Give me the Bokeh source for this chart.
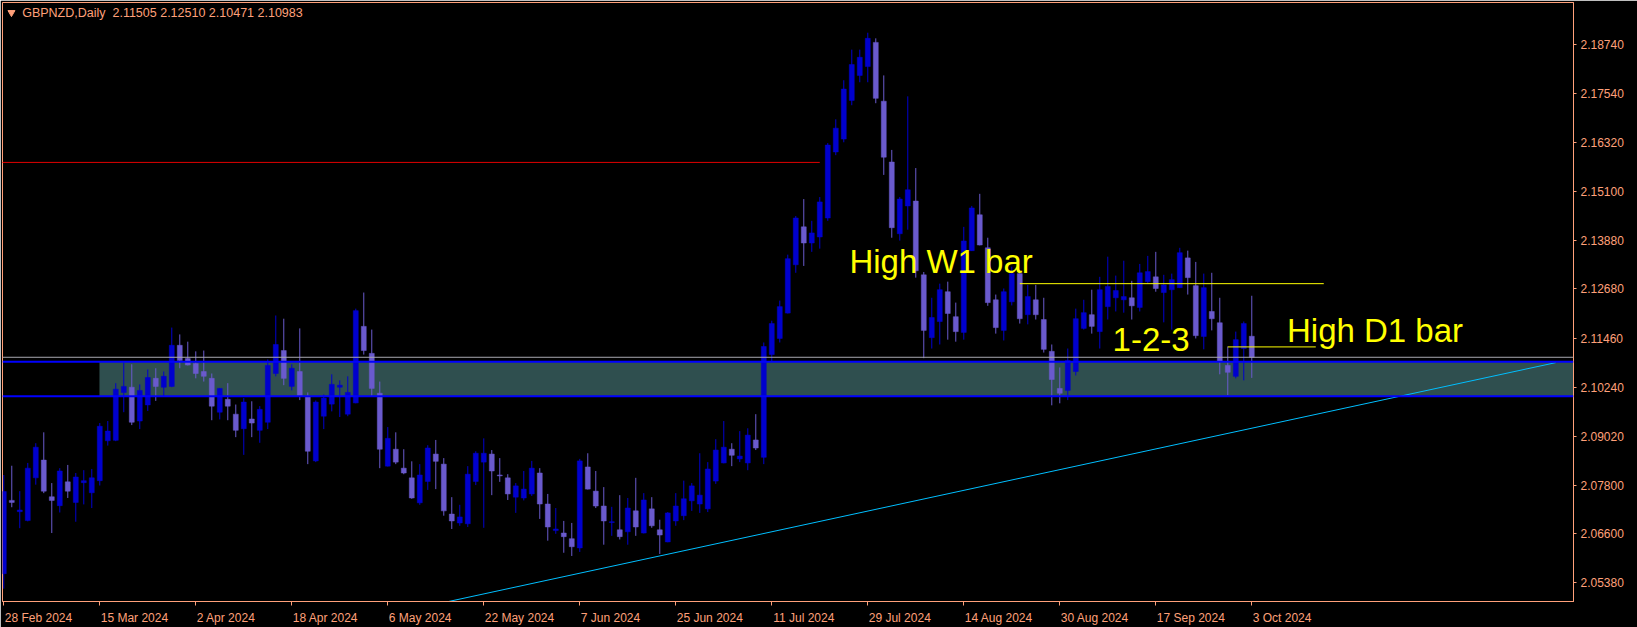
from bokeh.plotting import figure
from bokeh.models import (Range1d, FixedTicker, PrintfTickFormatter, Label,
                          ColumnDataSource, BoxAnnotation, Span, CustomJSTickFormatter)
from bokeh.embed import file_html
from bokeh.resources import INLINE
from bokeh.core.properties import value

# ---------------- data (GBPNZD daily, 28 Feb 2024 .. 3 Oct 2024) ----------------
opens = [2.0561, 2.0743, 2.0715, 2.0693, 2.0799, 2.0843, 2.0752, 2.0730, 2.0789, 2.0738,
         2.0787, 2.0762, 2.0792, 2.0891, 2.0892, 2.1011, 2.1024, 2.0940, 2.0980, 2.1046,
         2.1024, 2.1026, 2.1128, 2.1095, 2.1083, 2.1063, 2.1046, 2.0962, 2.0994, 2.0957,
         2.0921, 2.0945, 2.0917, 2.0937, 2.1058, 2.1115, 2.1026, 2.1063, 2.1002, 2.0841,
         2.0952, 2.0982, 2.1024, 2.0957, 2.0985, 2.1175, 2.1108, 2.1009, 2.0828, 2.0870,
         2.0823, 2.0799, 2.0737, 2.0790, 2.0858, 2.0833, 2.0709, 2.0687, 2.0685, 2.0790,
         2.0838, 2.0858, 2.0806, 2.0799, 2.0751, 2.0749, 2.0759, 2.0811, 2.0734, 2.0668,
         2.0662, 2.0648, 2.0625, 2.0826, 2.0766, 2.0729, 2.0688, 2.0670, 2.0665, 2.0717,
         2.0662, 2.0722, 2.0670, 2.0640, 2.0692, 2.0705, 2.0742, 2.0734, 2.0722, 2.0791,
         2.0836, 2.0870, 2.0846, 2.0836, 2.0893, 2.0850, 2.1105, 2.1145, 2.1208, 2.1328,
         2.1422, 2.1382, 2.1397, 2.1444, 2.1608, 2.1640, 2.1736, 2.1798, 2.1820, 2.1880,
         2.1734, 2.1583, 2.1405, 2.1474, 2.1486, 2.1303, 2.1147, 2.1187, 2.1261, 2.1199,
         2.1160, 2.1363, 2.1452, 2.1370, 2.1241, 2.1165, 2.1236, 2.1306, 2.1204, 2.1241,
         2.1192, 2.1113, 2.1021, 2.1016, 2.1063, 2.1170, 2.1204, 2.1162, 2.1224, 2.1246,
         2.1241, 2.1246, 2.1222, 2.1286, 2.1298, 2.1259, 2.1266, 2.1271, 2.1345, 2.1276,
         2.1150, 2.1212, 2.1184, 2.1078, 2.1051, 2.1120, 2.11505]
highs = [2.0806, 2.0829, 2.0766, 2.0836, 2.0885, 2.0912, 2.0786, 2.0823, 2.0831, 2.0811,
         2.0818, 2.0821, 2.0935, 2.0940, 2.1034, 2.1085, 2.1081, 2.1031, 2.1068, 2.1071,
         2.1063, 2.1172, 2.1155, 2.1137, 2.1113, 2.1115, 2.1058, 2.1022, 2.1034, 2.0981,
         2.0997, 2.0989, 2.0977, 2.1093, 2.1202, 2.1194, 2.1081, 2.1170, 2.1011, 2.0991,
         2.1006, 2.1056, 2.1041, 2.1051, 2.1219, 2.1259, 2.1167, 2.1038, 2.0925, 2.0912,
         2.0870, 2.0840, 2.0833, 2.0880, 2.0893, 2.0848, 2.0751, 2.0732, 2.0828, 2.0865,
         2.0897, 2.0868, 2.0848, 2.0808, 2.0786, 2.0816, 2.0841, 2.0823, 2.0759, 2.0724,
         2.0692, 2.0687, 2.0846, 2.0860, 2.0816, 2.0776, 2.0727, 2.0756, 2.0749, 2.0799,
         2.0761, 2.0751, 2.0695, 2.0714, 2.0761, 2.0792, 2.0786, 2.0860, 2.0838, 2.0895,
         2.0940, 2.0885, 2.0915, 2.0922, 2.0957, 2.1135, 2.1189, 2.1239, 2.1353, 2.1449,
         2.1491, 2.1437, 2.1496, 2.1630, 2.1689, 2.1786, 2.1862, 2.1862, 2.1904, 2.1890,
         2.1798, 2.1613, 2.1496, 2.1746, 2.1568, 2.1310, 2.1246, 2.1281, 2.1286, 2.1234,
         2.1422, 2.1474, 2.1504, 2.1395, 2.1254, 2.1269, 2.1323, 2.1307, 2.1278, 2.1278,
         2.1246, 2.1130, 2.1073, 2.1120, 2.1219, 2.1241, 2.1266, 2.1298, 2.1348, 2.1301,
         2.1338, 2.1288, 2.1330, 2.1350, 2.1360, 2.1303, 2.1306, 2.1370, 2.1363, 2.1335,
         2.1306, 2.1308, 2.1246, 2.1125, 2.1162, 2.1187, 2.12510]
lows = [2.0524, 2.0726, 2.0674, 2.0691, 2.0782, 2.0761, 2.0662, 2.0713, 2.0749, 2.0690,
        2.0733, 2.0724, 2.0780, 2.0879, 2.0890, 2.0962, 2.0930, 2.0920, 2.0965, 2.0990,
        2.1002, 2.1024, 2.1071, 2.1078, 2.1046, 2.1038, 2.0942, 2.0944, 2.0942, 2.0900,
        2.0856, 2.0900, 2.0886, 2.0920, 2.1051, 2.1029, 2.1016, 2.0992, 2.0833, 2.0838,
        2.0920, 2.0964, 2.0950, 2.0952, 2.0984, 2.1105, 2.1002, 2.0823, 2.0827, 2.0833,
        2.0808, 2.0747, 2.0732, 2.0769, 2.0771, 2.0705, 2.0672, 2.0680, 2.0677, 2.0781,
        2.0675, 2.0756, 2.0789, 2.0744, 2.0712, 2.0743, 2.0754, 2.0697, 2.0643, 2.0660,
        2.0613, 2.0605, 2.0615, 2.0770, 2.0724, 2.0633, 2.0655, 2.0646, 2.0633, 2.0655,
        2.0661, 2.0675, 2.0610, 2.0639, 2.0680, 2.0694, 2.0717, 2.0712, 2.0714, 2.0784,
        2.0835, 2.0828, 2.0838, 2.0818, 2.0868, 2.0833, 2.1088, 2.1135, 2.1207, 2.1308,
        2.1325, 2.1360, 2.1368, 2.1437, 2.1600, 2.1632, 2.1724, 2.1781, 2.1781, 2.1729,
        2.1551, 2.1395, 2.1388, 2.1415, 2.1296, 2.1096, 2.1120, 2.1130, 2.1142, 2.1137,
        2.1142, 2.1362, 2.1376, 2.1226, 2.1157, 2.1140, 2.1227, 2.1182, 2.1180, 2.1192,
        2.1110, 2.0979, 2.0984, 2.0992, 2.1053, 2.1167, 2.1157, 2.1120, 2.1192, 2.1212,
        2.1209, 2.1192, 2.1212, 2.1281, 2.1261, 2.1185, 2.1167, 2.1270, 2.1254, 2.1145,
        2.1118, 2.1165, 2.1056, 2.1004, 2.1046, 2.1041, 2.10471]
closes = [2.0765, 2.0738, 2.0719, 2.0823, 2.0875, 2.0766, 2.0743, 2.0816, 2.0766, 2.0801,
          2.0792, 2.0799, 2.0927, 2.0915, 2.1019, 2.1026, 2.0937, 2.1016, 2.1048, 2.1026,
          2.1051, 2.1128, 2.1090, 2.1079, 2.1058, 2.1051, 2.0977, 2.1021, 2.0977, 2.0917,
          2.0987, 2.0935, 2.0969, 2.1078, 2.1130, 2.1046, 2.1071, 2.1002, 2.0865, 2.0987,
          2.0997, 2.1031, 2.1029, 2.1011, 2.1214, 2.1115, 2.1021, 2.0870, 2.0897, 2.0838,
          2.0811, 2.0749, 2.0806, 2.0873, 2.0840, 2.0717, 2.0692, 2.0702, 2.0808, 2.0860,
          2.0860, 2.0816, 2.0804, 2.0759, 2.0779, 2.0771, 2.0823, 2.0734, 2.0677, 2.0672,
          2.0653, 2.0628, 2.0841, 2.0771, 2.0729, 2.0692, 2.0690, 2.0653, 2.0724, 2.0677,
          2.0744, 2.0680, 2.0657, 2.0712, 2.0729, 2.0747, 2.0779, 2.0756, 2.0821, 2.0868,
          2.0875, 2.0855, 2.0853, 2.0905, 2.0873, 2.1125, 2.1182, 2.1224, 2.1343, 2.1444,
          2.1382, 2.1407, 2.1484, 2.1625, 2.1667, 2.1764, 2.1825, 2.1843, 2.1890, 2.1741,
          2.1595, 2.1420, 2.1491, 2.1514, 2.1313, 2.1165, 2.1197, 2.1266, 2.1207, 2.1162,
          2.1387, 2.1469, 2.1377, 2.1234, 2.1172, 2.1261, 2.1306, 2.1194, 2.1249, 2.1204,
          2.1118, 2.1043, 2.1009, 2.1090, 2.1194, 2.1209, 2.1175, 2.1266, 2.1274, 2.1264,
          2.1249, 2.1226, 2.1308, 2.1311, 2.1269, 2.1278, 2.1291, 2.1358, 2.1296, 2.1152,
          2.1271, 2.1194, 2.1088, 2.1061, 2.1142, 2.1182, 2.10983]

date_tick_bars = [0, 12, 24, 36, 48, 60, 72, 84, 96, 108, 120, 132, 144, 156]
date_tick_labels = ["28 Feb 2024", "15 Mar 2024", "2 Apr 2024", "18 Apr 2024", "6 May 2024",
                    "22 May 2024", "7 Jun 2024", "25 Jun 2024", "11 Jul 2024", "29 Jul 2024",
                    "14 Aug 2024", "30 Aug 2024", "17 Sep 2024", "3 Oct 2024"]
price_ticks = [2.18740, 2.17540, 2.16320, 2.15100, 2.13880, 2.12680, 2.11460,
               2.10240, 2.09020, 2.07800, 2.06600, 2.05380]

title_text = "GBPNZD,Daily\u00a0\u00a02.11505 2.12510 2.10471 2.10983"
zone_top, zone_bottom = 2.10870, 2.10018
zone_start_bar = 12
bid_price = 2.10983
red_level, red_end_bar = 2.1582, 102
w1_level, w1_bars = 2.1281, [127, 165]
d1_level, d1_bars = 2.1124, [153, 164]
trend_bars = [50.0, 194.0]
trend_prices = [2.0468, 2.1085]
notes = [("High W1 bar", 105.7, 2.1337), ("1-2-3", 138.6, 2.1142), ("High D1 bar", 160.4, 2.1165)]

# ---------------- styling / layout ----------------
SALMON = "#FFA07A"
BULL = "#0000CD"
BEAR = "#6A5ACD"
FONT = "Liberation Sans"
W, H = 1637, 627
BL, BT, BR, BB = 2, 2, 64, 24
FW, FH = W - BL - BR, H - BT - BB
X0 = -0.16
X1 = X0 + FW / 8.0            # 8 px per daily bar
Y0, Y1 = 2.0492, 2.1979
PPB = FW / (X1 - X0)

# Arial / Liberation Sans advance widths (em) for the date label characters
ARIAL = {" ": .278, "0": .556, "1": .556, "2": .556, "3": .556, "4": .556, "5": .556,
         "6": .556, "7": .556, "8": .556, "9": .556, "F": .611, "e": .556, "b": .556,
         "M": .833, "a": .556, "r": .333, "A": .667, "p": .556, "y": .5, "J": .5,
         "u": .556, "n": .556, "l": .222, "g": .556, "S": .667, "O": .778, "c": .5, "t": .278}


def text_w(s, size=12):
    return sum(ARIAL.get(ch, .556) for ch in s) * size


n = len(opens)
bars = list(range(n))
cols = [BULL if c >= o else BEAR for o, c in zip(opens, closes)]
src = ColumnDataSource(dict(
    x=bars, o=opens, h=highs, l=lows, c=closes,
    top=[max(o, c) for o, c in zip(opens, closes)],
    bot=[min(o, c) for o, c in zip(opens, closes)],
    color=cols))

p = figure(width=W, height=H, output_backend="svg", toolbar_location=None,
           x_range=Range1d(X0, X1), y_range=Range1d(Y0, Y1),
           y_axis_location="right",
           min_border_left=BL, min_border_top=BT, min_border_right=BR, min_border_bottom=BB,
           background_fill_color="black", border_fill_color="black",
           outline_line_color=SALMON, outline_line_width=1)
p.grid.visible = False

# zone rectangle (background)
p.add_layout(BoxAnnotation(left=zone_start_bar - 0.04, bottom=zone_bottom, top=zone_top,
                           fill_color="#2F4F4F", fill_alpha=1.0, line_color=None,
                           level="underlay"))

# candles
p.segment(x0="x", y0="h", x1="x", y1="l", color="color", line_width=1, source=src)
p.vbar(x="x", width=0.62, top="top", bottom="bot", fill_color="color",
       line_color="color", line_width=0.5, source=src)

# horizontal levels
p.add_layout(Span(location=bid_price, dimension="width", line_color="#A8A8B0", line_width=1))
p.add_layout(Span(location=zone_top, dimension="width", line_color="#0000FF", line_width=2))
p.add_layout(Span(location=zone_bottom, dimension="width", line_color="#0000FF", line_width=2))
p.segment(x0=[X0 - 1], y0=[red_level], x1=[red_end_bar], y1=[red_level],
          line_color="#E00000", line_width=1)
p.segment(x0=[w1_bars[0]], y0=[w1_level], x1=[w1_bars[1]], y1=[w1_level],
          line_color="#FFFF00", line_width=1)
p.segment(x0=[d1_bars[0]], y0=[d1_level], x1=[d1_bars[1]], y1=[d1_level],
          line_color="#FFFF00", line_width=1)
p.line(trend_bars, trend_prices, line_color="#00BFFF", line_width=1)

# annotation texts
p.text(x=[t[1] for t in notes], y=[t[2] for t in notes], text=[t[0] for t in notes],
       text_color="#FFFF00", text_font=value(FONT), text_font_size="33px",
       text_align="left", text_baseline="middle")

# title
p.scatter([0.96], [2.1954], marker="inverted_triangle", size=7,
          fill_color=SALMON, line_color=SALMON)
p.add_layout(Label(x=2.3, y=2.1953, text=title_text, text_color=SALMON,
                   text_font=FONT, text_font_size="12.5px", text_baseline="middle",
                   text_align="left"))

# right price axis
ya = p.yaxis[0]
ya.ticker = FixedTicker(ticks=price_ticks)
ya.formatter = PrintfTickFormatter(format="%.5f")
ya.axis_line_color = SALMON
ya.major_tick_line_color = SALMON
ya.major_tick_out = 3
ya.major_tick_in = 0
ya.minor_tick_out = 0
ya.minor_tick_in = 0
ya.major_label_text_color = SALMON
ya.major_label_text_font = FONT
ya.major_label_text_font_size = "12px"
ya.major_label_standoff = 4

# bottom date axis: tick marks (minor ticks) at the bars, labels left-aligned on them
label_pos = [b + (text_w(s) / 2 + 1) / PPB for b, s in zip(date_tick_bars, date_tick_labels)]
xa = p.xaxis[0]
xa.ticker = FixedTicker(ticks=label_pos, minor_ticks=date_tick_bars)
xa.formatter = CustomJSTickFormatter(args=dict(pos=label_pos, labels=date_tick_labels), code="""
    for (let k = 0; k < pos.length; k++) {
        if (Math.abs(tick - pos[k]) < 1e-6) return labels[k];
    }
    return "";
""")
xa.axis_line_color = SALMON
xa.major_tick_out = 0
xa.major_tick_in = 0
xa.minor_tick_line_color = SALMON
xa.minor_tick_out = 4
xa.minor_tick_in = 0
xa.major_label_text_color = SALMON
xa.major_label_text_font = FONT
xa.major_label_text_font_size = "12px"
xa.major_label_standoff = 5

open("out.html", "w").write(file_html(p, INLINE))
